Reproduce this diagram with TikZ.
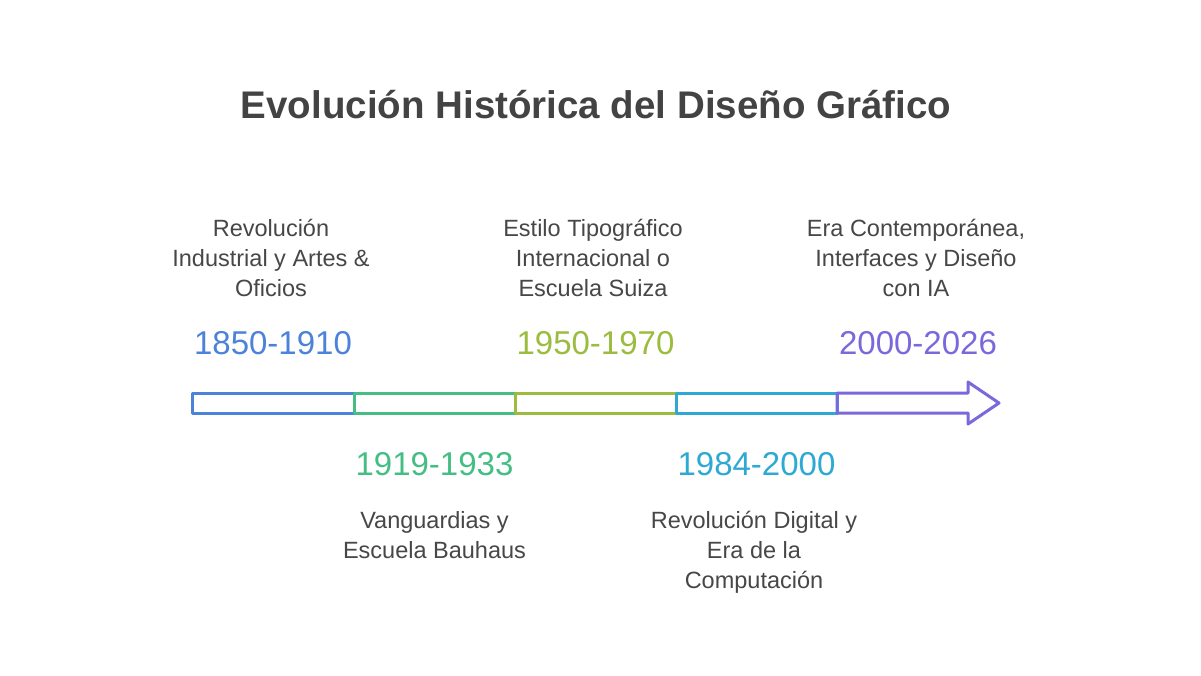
\documentclass[tikz,border=0pt]{standalone}
\usepackage{fontspec}
\setmainfont{Liberation Sans}
\definecolor{txt}{HTML}{474747}
\definecolor{ttl}{HTML}{434343}
\definecolor{cblue}{HTML}{4C82D9}
\definecolor{cgreen}{HTML}{45BE84}
\definecolor{colive}{HTML}{9CBC3F}
\definecolor{ccyan}{HTML}{2DA9D3}
\definecolor{cpurple}{HTML}{7B68DB}
\begin{document}
\begin{tikzpicture}[x=1pt,y=-1pt,
  desc/.style={anchor=base,inner sep=0pt,text=txt,font=\fontsize{23.5}{30}\selectfont},
  year/.style={anchor=base,inner sep=0pt,font=\fontsize{33}{38}\selectfont},
  seg/.style={line width=3pt,line join=round}]
\useasboundingbox[fill=white] (0,0) rectangle (1201,675);
\node[anchor=base,inner sep=0pt,text=ttl,font=\fontsize{38.5}{44}\selectfont\bfseries] (title) at (596,118) {Evolución Histórica del Diseño Gráfico};

% bar
\draw[seg,cblue] (192,393) rectangle (354,413);
\draw[seg,cgreen] (354,393) rectangle (515,413);
\draw[seg,colive] (515,393) rectangle (676,413);
\draw[seg,ccyan] (676,393) rectangle (837,413);
\draw[seg,cpurple] (837,393) -- (968,393) -- (968,382) -- (999,403) -- (968,424) -- (968,413) -- (837,413) -- cycle;

% years
\node[year,text=cblue] (y1) at (273,354) {1850-1910};
\node[year,text=cgreen] (y2) at (434.5,475) {1919-1933};
\node[year,text=colive] (y3) at (595.5,354) {1950-1970};
\node[year,text=ccyan] (y4) at (756.5,475) {1984-2000};
\node[year,text=cpurple] (y5) at (918,354) {2000-2026};

% descriptions
\setlength{\tabcolsep}{0pt}
\node[desc] (d1) at (271,236) {\begin{tabular}[t]{c}Revolución\\Industrial y Artes \&\\Oficios\end{tabular}};
\node[desc] (d2) at (434.5,528) {\begin{tabular}[t]{c}Vanguardias y\\Escuela Bauhaus\end{tabular}};
\node[desc] (d3) at (593,236) {\begin{tabular}[t]{c}Estilo Tipográfico\\Internacional o\\Escuela Suiza\end{tabular}};
\node[desc] (d4) at (754,528) {\begin{tabular}[t]{c}Revolución Digital y\\Era de la\\Computación\end{tabular}};
\node[desc] (d5) at (916,236) {\begin{tabular}[t]{c}Era Contemporánea,\\Interfaces y Diseño\\con IA\end{tabular}};
\end{tikzpicture}
\end{document}
